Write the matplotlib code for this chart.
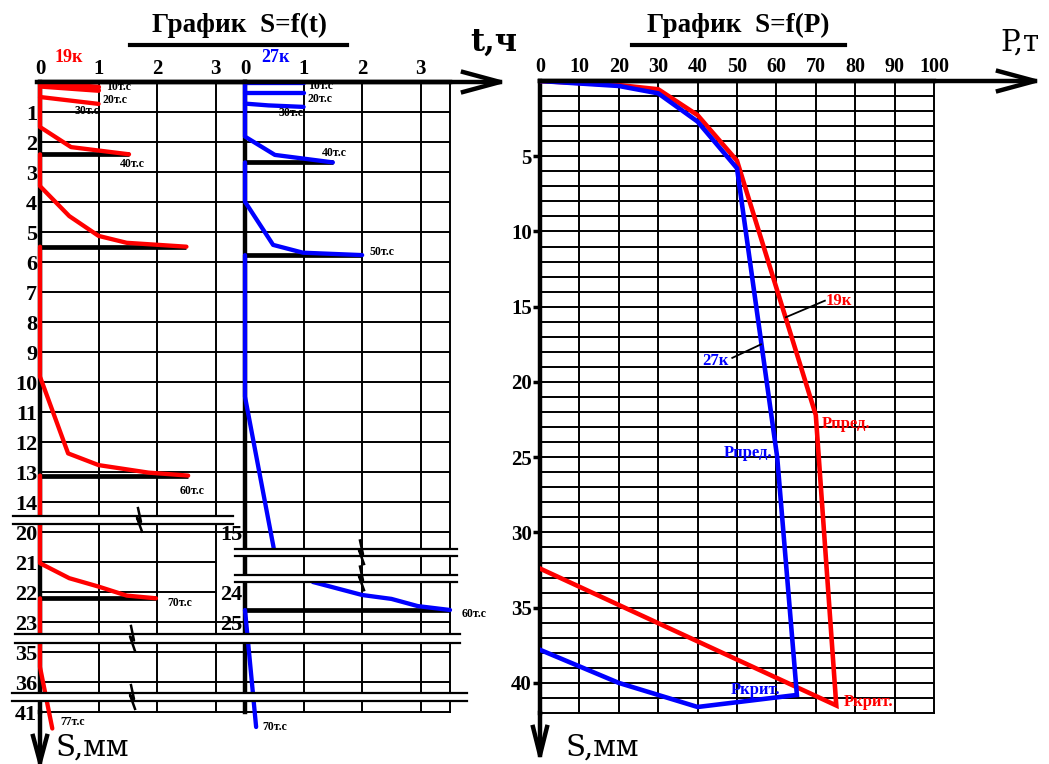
import numpy as np
import matplotlib
matplotlib.use("Agg")
import matplotlib.pyplot as plt
from matplotlib.ticker import NullLocator

W, H, DPI = 1049, 764, 100
RED, BLUE, BLK = "#ff0000", "#0000ff", "#000000"
plt.rcParams["font.family"] = ["Liberation Serif", "DejaVu Serif"]

# ---------------- data: S=f(t), pile 19к (t, h ; S, mm) ----------------
r10_t, r10_s = [0, 1], [0.04, 0.17]
r20_t, r20_s = [0, 1], [0.14, 0.28]
r30_t, r30_s = [0, 1], [0.50, 0.73]
r40_t, r40_s = [0, 0, 0.53, 1.52], [0, 1.5, 2.17, 2.41]
r50_t, r50_s = [0, 0, 0.5, 1.0, 1.48, 2.5], [2.41, 3.47, 4.47, 5.13, 5.36, 5.49]
r60_t, r60_s = [0, 0, 0.48, 1.0, 1.85, 2.53], [5.49, 9.82, 12.38, 12.77, 13.02, 13.12]
r70_t, r70_s = [0, 0, 0.5, 1.0, 1.48, 1.98], [13.12, 21.04, 21.54, 21.82, 22.12, 22.21]
r77_t, r77_s = [0, 0, 0.21], [22.21, 35.5, 41.55]
stab19_s = [2.41, 5.49, 13.12, 22.21]
stab19_t = [1.52, 2.5, 2.53, 2.0]

# ---------------- data: S=f(t), pile 27к ----------------
b10_t, b10_s = [0, 1], [0.02, 0.02]
b20_t, b20_s = [0, 1], [0.38, 0.38]
b30_t, b30_s = [0, 0.4, 1], [0.72, 0.78, 0.83]
b40_t, b40_s = [0, 0, 0.51, 1.5], [0, 1.82, 2.43, 2.68]
b50_t, b50_s = [0, 0, 0.48, 0.99, 2.0], [2.68, 3.99, 5.43, 5.69, 5.77]
b60a_t, b60a_s = [0, 0, 0.49], [5.77, 10.49, 17.4]
b60b_t, b60b_s = [1.16, 2.0, 2.5, 2.95, 3.5], [22.5, 24.1, 24.23, 24.47, 24.6]
b70_t, b70_s = [0, 0.19], [24.6, 41.5]
stab27_s = [2.68, 5.77, 24.6]
stab27_t = [1.5, 2.0, 3.5]

# ---------------- data: S=f(P) ----------------
p19_P = [0, 20, 30, 40, 50, 70, 75.2, 0]
p19_S = [0, 0.27, 0.55, 2.27, 5.3, 22.2, 41.5, 32.4]
p27_P = [0, 20, 30, 40, 50, 60.2, 65.2, 40, 20, 0]
p27_S = [0, 0.33, 0.82, 2.7, 5.8, 25.0, 40.8, 41.6, 40.0, 37.8]

# tick labels
t_ticks = [0, 1, 2, 3]
s19_ticks = list(range(1, 15)) + [20, 21, 22, 23, 35, 36, 41]
s27_ticks = [15, 24, 25]
p_ticks = list(range(0, 101, 10))
sp_ticks = list(range(5, 41, 5))

# broken-axis knots (S value -> row)
k19_S = [-10, 0, 14, 20, 23, 35, 36, 41, 70]
k19_d = [-10, 0, 14, 15, 18, 19, 20, 21, 50]
k27_S = [-10, 0, 15, 24, 25, 35, 36, 41, 70]
k27_d = [-10, 0, 15, 17, 18, 19, 20, 21, 50]


def make_scale(kS, kd):
    kS = np.asarray(kS, float)
    kd = np.asarray(kd, float)
    return (lambda s: np.interp(s, kS, kd), lambda d: np.interp(d, kd, kS))


fig = plt.figure(figsize=(W / DPI, H / DPI), dpi=DPI)


def box(x0, x1, y0, y1):
    return [x0 / W, 1 - y1 / H, (x1 - x0) / W, (y1 - y0) / H]


ax1 = fig.add_axes(box(40, 245, 82, 712))
ax2 = fig.add_axes(box(245, 450, 82, 712))
ax3 = fig.add_axes(box(540, 934, 81, 713))

GLW = 1.4
DLW = 3.1
for ax, ks in ((ax1, (k19_S, k19_d)), (ax2, (k27_S, k27_d))):
    ax.set_yscale("function", functions=make_scale(*ks))
    ax.set_ylim(41, 0)
    ax.set_xlim(0, 3.5)
    ax.yaxis.set_minor_locator(NullLocator())
    ax.xaxis.set_minor_locator(NullLocator())
    ax.xaxis.tick_top()
    ax.set_xticks(t_ticks)
    ax.set_xticklabels([str(v) for v in t_ticks], fontsize=15, fontweight="bold")
    ax.tick_params(axis="x", length=0, pad=2)
    ax.tick_params(axis="y", length=0, pad=2)
    ax.spines["left"].set_linewidth(3.2)
    ax.spines["top"].set_linewidth(3.2)
    ax.spines["bottom"].set_linewidth(GLW)
    ax.spines["right"].set_linewidth(GLW)
    ax.vlines([1, 2, 3], 41, 0, color=BLK, lw=GLW, zorder=1)
    ax.hlines([35, 36], 0, 3.5, color=BLK, lw=GLW, zorder=1)
ax1.spines["right"].set_visible(False)

ax1.set_yticks(s19_ticks)
ax1.set_yticklabels([str(v) for v in s19_ticks], fontsize=16, fontweight="bold")
ax2.set_yticks(s27_ticks)
ax2.set_yticklabels([str(v) for v in s27_ticks], fontsize=16, fontweight="bold")

# grid rows
ax1.hlines(list(range(1, 15)), 0, 3.5, color=BLK, lw=GLW, zorder=1)
ax1.hlines([20, 21, 22, 23], 0, 3.0, color=BLK, lw=GLW, zorder=1)
ax2.hlines(list(range(1, 15)), 0, 3.5, color=BLK, lw=GLW, zorder=1)
ax2.hlines([15, 25], -0.47, 3.5, color=BLK, lw=GLW, zorder=1, clip_on=False)

# stabilisation lines
ax1.hlines(stab19_s, 0, stab19_t, color=BLK, lw=3.4, zorder=2)
ax2.hlines(stab27_s, 0, stab27_t, color=BLK, lw=3.4, zorder=2)

# red curves (19к)
ax1.plot(r10_t, r10_s, color=RED, lw=3.6, zorder=3, solid_capstyle="round")
ax1.plot(r20_t, r20_s, color=RED, lw=3.6, zorder=3, solid_capstyle="round")
for tt, ss in ((r30_t, r30_s), (r40_t, r40_s), (r50_t, r50_s), (r60_t, r60_s),
               (r70_t, r70_s), (r77_t, r77_s)):
    ax1.plot(tt, ss, color=RED, lw=DLW, zorder=3, clip_on=False,
             solid_capstyle="round", solid_joinstyle="round")

# blue curves (27к)
for tt, ss in ((b10_t, b10_s), (b20_t, b20_s), (b30_t, b30_s), (b40_t, b40_s),
               (b50_t, b50_s), (b60a_t, b60a_s), (b60b_t, b60b_s), (b70_t, b70_s)):
    ax2.plot(tt, ss, color=BLUE, lw=DLW, zorder=3, clip_on=False,
             solid_capstyle="round", solid_joinstyle="round")

small = dict(fontsize=8.5, fontweight="bold", va="center")
for x, y, s, ha in ((1.12, 0.16, "10т.с", "left"), (1.06, 0.6, "20т.с", "left"),
                    (1.02, 0.97, "30т.с", "right"), (1.37, 2.73, "40т.с", "left"),
                    (2.39, 13.63, "60т.с", "left"), (2.17, 22.37, "70т.с", "left"),
                    (0.34, 41.33, "77т.с", "left")):
    ax1.text(x, y, s, ha=ha, zorder=6, **small)
for x, y, s, ha in ((1.07, 0.14, "10т.с", "left"), (1.07, 0.56, "20т.с", "left"),
                    (0.99, 1.02, "30т.с", "right"), (1.31, 2.37, "40т.с", "left"),
                    (2.13, 5.67, "50т.с", "left"), (3.7, 24.73, "60т.с", "left"),
                    (0.29, 41.5, "70т.с", "left")):
    ax2.text(x, y, s, ha=ha, zorder=6, **small)

# ---------------- S=f(P) ----------------
ax3.set_xlim(0, 100)
ax3.set_ylim(42, 0)
ax3.xaxis.tick_top()
ax3.set_xticks(p_ticks)
ax3.set_xticklabels([str(v) for v in p_ticks], fontsize=14.5, fontweight="bold")
ax3.tick_params(axis="x", length=0, pad=3)
ax3.set_yticks(sp_ticks)
ax3.set_yticklabels([str(v) for v in sp_ticks], fontsize=15, fontweight="bold")
ax3.tick_params(axis="y", length=5, width=2.5, direction="out", pad=1)
ax3.vlines(list(range(10, 100, 10)), 42, 0, color=BLK, lw=GLW, zorder=1)
ax3.hlines(list(range(1, 42)), 0, 100, color=BLK, lw=GLW, zorder=1)
ax3.spines["left"].set_linewidth(3.2)
ax3.spines["top"].set_linewidth(3.2)
ax3.spines["right"].set_linewidth(GLW)
ax3.spines["bottom"].set_linewidth(GLW)
ax3.plot(p19_P, p19_S, color=RED, lw=3.3, zorder=3, solid_joinstyle="miter")
ax3.plot(p27_P, p27_S, color=BLUE, lw=3.3, zorder=3, solid_joinstyle="miter")

ax3.plot([62.4, 72.3], [15.7, 14.6], color=BLK, lw=1.3, zorder=4)
ax3.plot([56.1, 48.8], [17.5, 18.4], color=BLK, lw=1.3, zorder=4)
lab = dict(fontsize=12, fontweight="bold", va="center", zorder=5)
ax3.text(72.6, 14.6, "19к", color=RED, ha="left", **lab)
ax3.text(47.8, 18.6, "27к", color=BLUE, ha="right", **lab)
ax3.text(71.5, 22.8, "Рпред.", color=RED, ha="left", **lab)
ax3.text(58.9, 24.7, "Рпред.", color=BLUE, ha="right", **lab)
ax3.text(61.0, 40.5, "Ркрит.", color=BLUE, ha="right", **lab)
ax3.text(77.0, 41.3, "Ркрит.", color=RED, ha="left", **lab)

# ---------------- overlay: titles, arrows, axis breaks ----------------
ov = fig.add_axes([0, 0, 1, 1], zorder=5)
ov.set_xlim(0, W)
ov.set_ylim(H, 0)
ov.axis("off")

ov.text(240, 25, "График  S=f(t)", ha="center", va="center", fontsize=19.5, fontweight="bold")
ov.plot([130, 347], [45, 45], color=BLK, lw=3)
ov.text(738, 25, "График  S=f(P)", ha="center", va="center", fontsize=19.5, fontweight="bold")
ov.plot([632, 845], [45, 45], color=BLK, lw=3)
ov.text(470, 42, "t,ч", ha="left", va="center", fontsize=22, fontweight="bold",
        family=["DejaVu Serif"])
ov.text(1000, 43, "P,т", ha="left", va="center", fontsize=21, family=["DejaVu Serif"])
ov.text(55, 748, "S,мм", ha="left", va="center", fontsize=21, family=["DejaVu Serif"])
ov.text(565, 748, "S,мм", ha="left", va="center", fontsize=21, family=["DejaVu Serif"])
ov.text(69, 57, "19к", ha="center", va="center", fontsize=13, fontweight="bold", color=RED)
ov.text(275, 57, "27к", ha="center", va="center", fontsize=13, fontweight="bold", color=BLUE)

AW = 3.2
ov.plot([37, 500], [82, 82], color=BLK, lw=AW)
ov.plot([463, 500, 463], [72, 82, 92], color=BLK, lw=AW)
ov.plot([540, 1035], [81, 81], color=BLK, lw=AW)
ov.plot([998, 1035, 998], [71, 81, 91], color=BLK, lw=AW)
ov.plot([40, 40], [712, 762], color=BLK, lw=AW)
ov.plot([33, 40, 47], [736, 762, 736], color=BLK, lw=AW)
ov.plot([540, 540], [713, 755], color=BLK, lw=AW)
ov.plot([533, 540, 547], [727, 755, 727], color=BLK, lw=AW)

# axis breaks (rows -> pixels)
breaks = [(14.47, 14.72, 13, 233, [140]),
          (15.55, 15.80, 235, 457, [362]),
          (16.42, 16.67, 235, 457, [362]),
          (18.40, 18.70, 15, 460, [133]),
          (20.37, 20.63, 12, 467, [133])]
for d1, d2, x0, x1, zx in breaks:
    ya, yb = 82 + 30 * d1, 82 + 30 * d2
    ov.fill_between([x0, x1], ya, yb, color="white", lw=0)
    ov.plot([x0, x1], [ya, ya], color=BLK, lw=1.6)
    ov.plot([x0, x1], [yb, yb], color=BLK, lw=1.6)
    for x in zx:
        m = (ya + yb) / 2
        ov.plot([x - 2, x + 1, x - 3, x + 2], [ya - 8, m + 2, m - 2, yb + 8],
                color=BLK, lw=1.8)

fig.savefig("out.png", dpi=DPI)
